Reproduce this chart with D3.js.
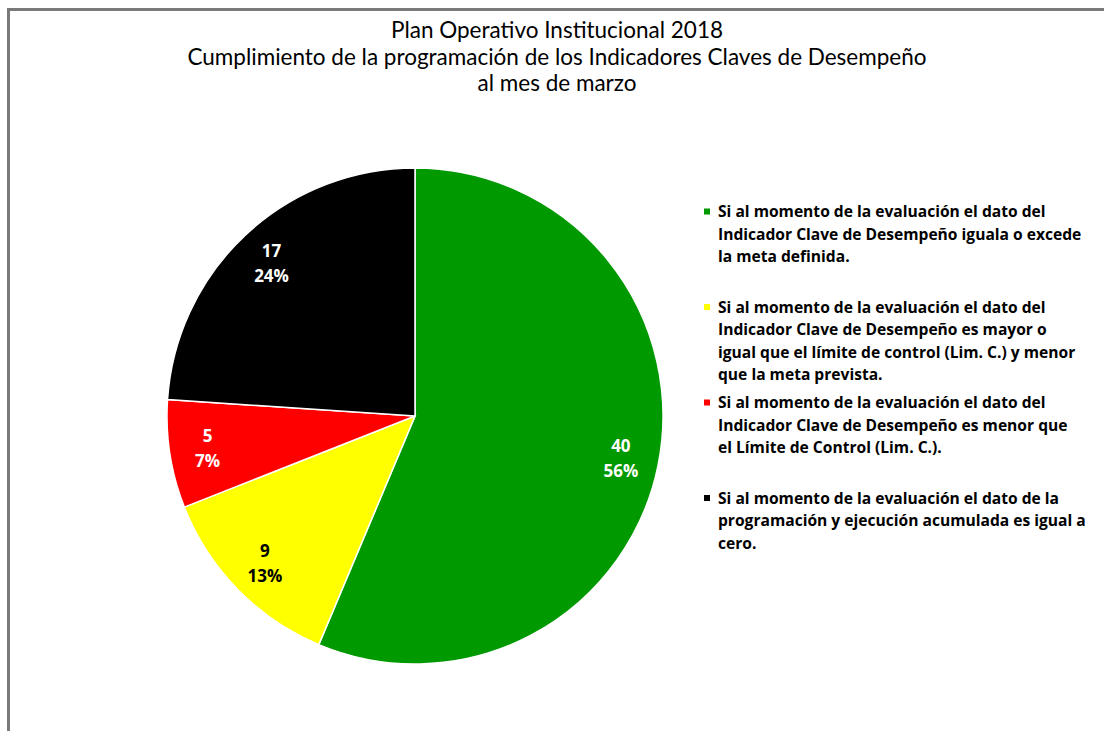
<!DOCTYPE html>
<html>
<head>
<meta charset="utf-8">
<script src="https://cdn.jsdelivr.net/npm/d3@7"></script>
<style>
  html, body { margin: 0; padding: 0; background: #ffffff; }
  svg { display: block; }
</style>
</head>
<body>
<svg id="chart" width="1104" height="731"></svg>
<script>
// ---- data ----
const titleLines = [
  "Plan Operativo Institucional 2018",
  "Cumplimiento de la programación de los Indicadores Claves de Desempeño",
  "al mes de marzo"
];
const categories = ["Cumple meta", "Entre límite y meta", "Menor que límite", "Cero"];
const values = [40, 9, 5, 17];
const colors = ["#009900", "#ffff00", "#ff0000", "#000000"];
const labelColors = ["#ffffff", "#000000", "#ffffff", "#ffffff"];
const legendLines = [
  ["Si al momento de la evaluación el dato del",
   "Indicador Clave de Desempeño iguala o excede",
   "la meta definida."],
  ["Si al momento de la evaluación el dato del",
   "Indicador Clave de Desempeño es mayor o",
   "igual que el límite de control (Lim. C.) y menor",
   "que la meta prevista."],
  ["Si al momento de la evaluación el dato del",
   "Indicador Clave de Desempeño es menor que",
   "el Límite de Control (Lim. C.)."],
  ["Si al momento de la evaluación el dato de la",
   "programación y ejecución acumulada es igual a",
   "cero."]
];

// ---- layout ----
const svg = d3.select("#chart");
const cx = 415, cy = 416, R = 248, labelR = 210;

// frame
svg.append("rect")
  .attr("x", 8.5).attr("y", 9.5)
  .attr("width", 1110).attr("height", 740)
  .attr("fill", "#ffffff")
  .attr("stroke", "#7a7a7a")
  .attr("stroke-width", 3);

// title
const title = svg.append("g")
  .attr("font-family", "Lato, 'Open Sans', sans-serif")
  .attr("font-size", 22.5)
  .attr("fill", "#000")
  .attr("text-anchor", "middle");
titleLines.forEach((t, i) => {
  title.append("text")
    .attr("x", 557)
    .attr("y", 38 + i * 26.5)
    .text(t);
});

// pie
const total = d3.sum(values);
const pie = d3.pie().sort(null).value(d => d)(values);
const arc = d3.arc().innerRadius(0).outerRadius(R);
const labelArc = d3.arc().innerRadius(labelR).outerRadius(labelR);

const g = svg.append("g").attr("transform", `translate(${cx},${cy})`);
g.selectAll("path.slice")
  .data(pie)
  .join("path")
  .attr("class", "slice")
  .attr("d", arc)
  .attr("fill", (d, i) => colors[i])
  .attr("stroke", "#ffffff")
  .attr("stroke-width", 1.5);

const fmtPct = d3.format(".0%");
const lbl = g.selectAll("g.lbl")
  .data(pie)
  .join("g")
  .attr("class", "lbl")
  .attr("transform", d => `translate(${labelArc.centroid(d)})`)
  .attr("font-family", "'Open Sans', Lato, sans-serif")
  .attr("font-weight", "bold")
  .attr("font-size", 17)
  .attr("text-anchor", "middle")
  .attr("fill", (d, i) => labelColors[i]);
lbl.append("text").attr("y", -6).text(d => d.value);
lbl.append("text").attr("y", 19).text(d => fmtPct(d.value / total));

// legend
const legend = svg.append("g")
  .attr("font-family", "'Open Sans', Lato, sans-serif")
  .attr("font-weight", "bold")
  .attr("font-size", 15.6)
  .attr("fill", "#000");
const lx = 718, ly0 = 212, slot = 95.5, lineH = 22.5;
legendLines.forEach((lines, i) => {
  const y0 = ly0 + i * slot;
  legend.append("rect")
    .attr("x", lx - 14).attr("y", y0 - 3.5)
    .attr("width", 6).attr("height", 6)
    .attr("fill", colors[i]);
  lines.forEach((t, j) => {
    legend.append("text")
      .attr("x", lx)
      .attr("y", y0 + j * lineH)
      .attr("dy", "0.35em")
      .text(t);
  });
});
</script>
</body>
</html>
